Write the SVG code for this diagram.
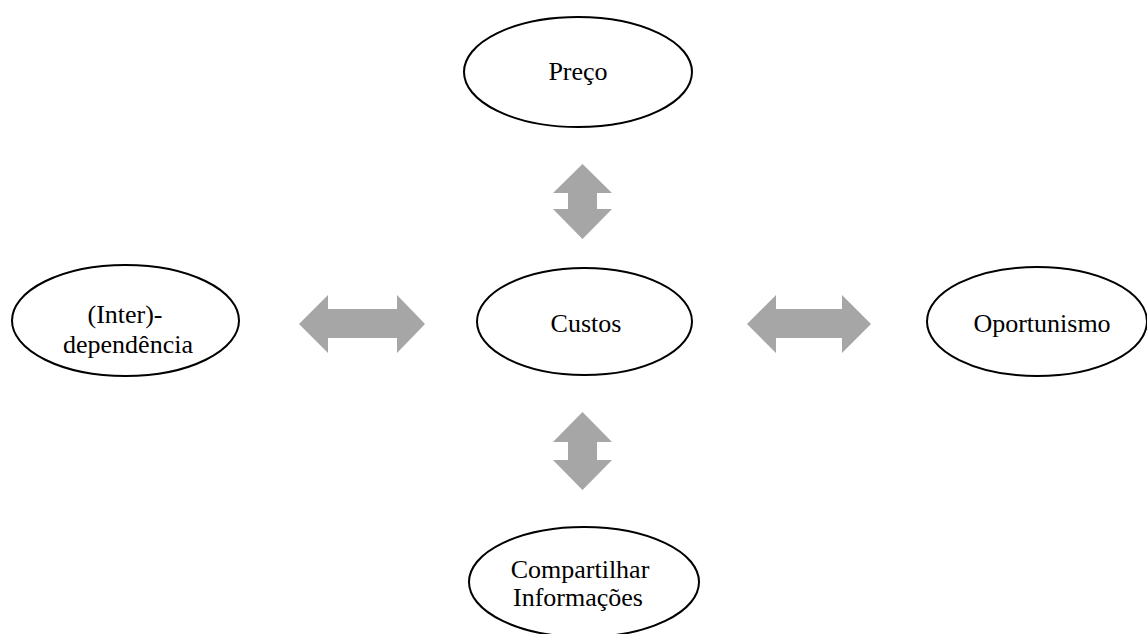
<svg xmlns="http://www.w3.org/2000/svg" width="1147" height="634" viewBox="0 0 1147 634">
  <style>
    .node ellipse { fill: #ffffff; stroke: #000000; stroke-width: 2; }
    .node text { font-family: "Liberation Serif", "Times New Roman", serif; font-size: 26px; fill: #000000; text-anchor: middle; }
    .link { fill: #A6A6A6; stroke: none; }
  </style>
  <rect width="1147" height="634" fill="#ffffff"/>

  <!-- double-headed block arrows between the centre and each factor -->
  <g id="connectors">
    <polygon class="link" points="582.5,164 612,193 597,193 597,209 612,209 582.5,239 553,209 568,209 568,193 553,193"/>
    <polygon class="link" points="582.5,412 612,442 597,442 597,460 612,460 582.5,490 553,460 568,460 568,442 553,442"/>
    <polygon class="link" points="299,324 328,295 328,309 397,309 397,295 425,324 397,353 397,338 328,338 328,353"/>
    <polygon class="link" points="747,324 776,295 776,309 842,309 842,295 871,324 842,353 842,338 776,338 776,353"/>
  </g>

  <g id="node-preco" class="node">
    <ellipse cx="578" cy="72" rx="114" ry="55"/>
    <text x="578" y="80">Preço</text>
  </g>

  <g id="node-custos" class="node">
    <ellipse cx="584.5" cy="321.5" rx="107.5" ry="53.5"/>
    <text x="586" y="332">Custos</text>
  </g>

  <g id="node-interdependencia" class="node">
    <ellipse cx="125.5" cy="320.5" rx="113.5" ry="55.5"/>
    <text x="125" y="323">(Inter)-</text>
    <text x="128" y="353">dependência</text>
  </g>

  <g id="node-oportunismo" class="node">
    <ellipse cx="1037" cy="321.5" rx="110" ry="54.5"/>
    <text x="1042" y="332">Oportunismo</text>
  </g>

  <g id="node-compartilhar" class="node">
    <ellipse cx="584" cy="582" rx="115" ry="55"/>
    <text x="580" y="578">Compartilhar</text>
    <text x="578" y="606">Informações</text>
  </g>
</svg>
